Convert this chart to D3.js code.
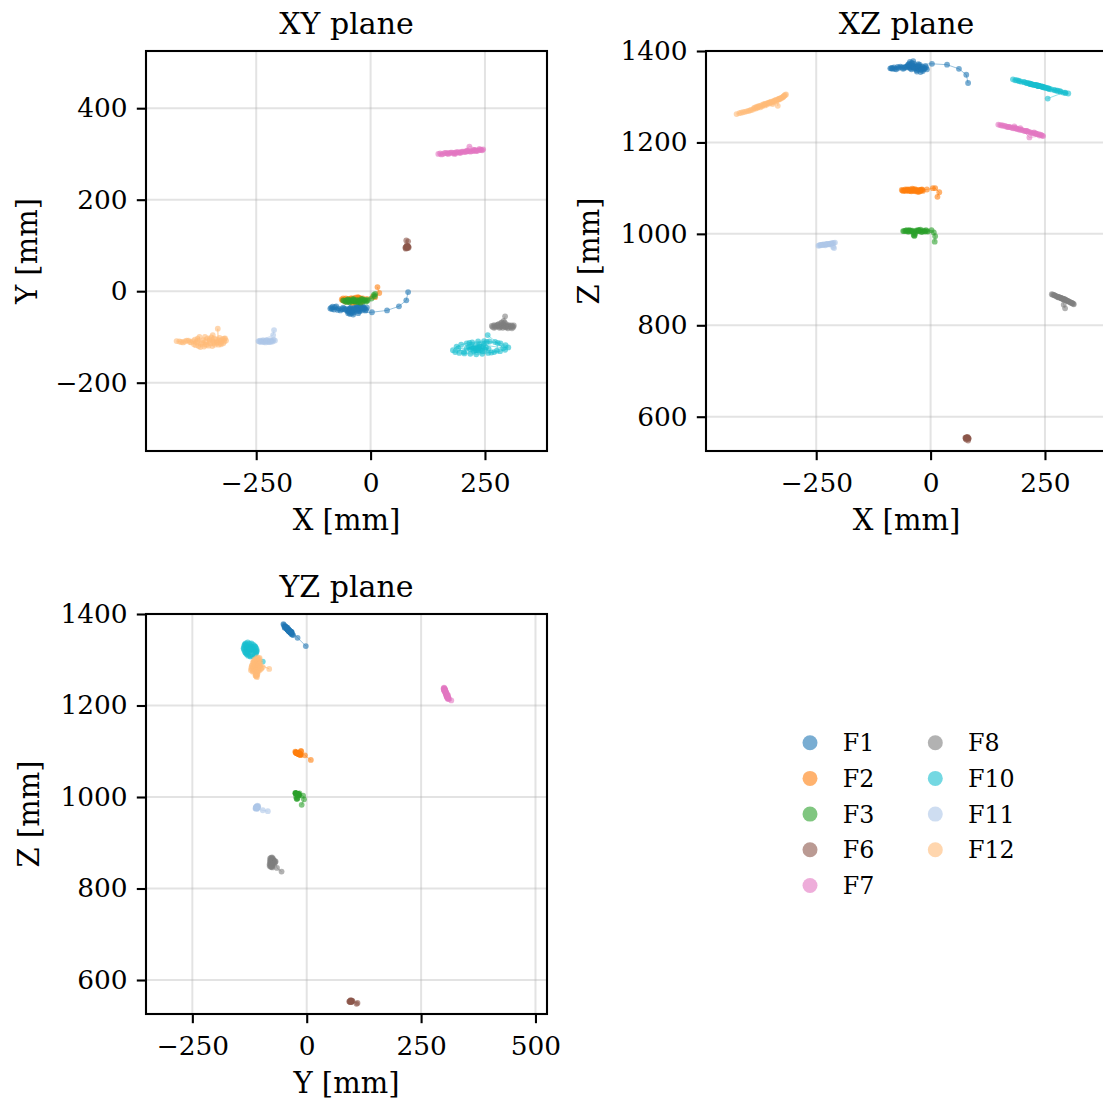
<!DOCTYPE html>
<html>
<head>
<meta charset="utf-8">
<script src="https://cdn.jsdelivr.net/npm/d3@7"></script>
<style>
  html, body { margin: 0; padding: 0; background: #fff; }
  svg { display: block; }
</style>
</head>
<body>
<script>
// ---------- DATA, each point = [X, Y, Z] in mm ----------
const MARKERS = ["F1", "F2", "F3", "F6", "F7", "F8", "F10", "F11", "F12"];
const COLORS  = ["#1f77b4", "#ff7f0e", "#2ca02c", "#8c564b", "#e377c2", "#7f7f7f", "#17becf", "#aec7e8", "#ffbb78"];

const F1 = [
  [-86,-36,1362],[-80,-40,1364],[-75,-33,1360],[-70,-38,1363],[-66,-42,1366],[-60,-36,1361],
  [-55,-40,1365],[-50,-44,1368],[-46,-38,1364],[-42,-35,1360],[-40,-42,1366],[-36,-46,1372],
  [-33,-38,1362],[-30,-34,1358],[-27,-40,1365],[-24,-44,1370],[-20,-37,1361],[-17,-33,1356],
  [-14,-39,1363],[-11,-42,1367],[-8,-36,1360],[-45,-50,1376],[-38,-51,1378],[-30,-31,1355],
  [-22,-30,1354],
  [-52,-39,1364],[-48,-41,1366],[-44,-37,1362],[-41,-40,1365],[-38,-43,1368],[-35,-36,1361],
  [-32,-41,1366],[-29,-38,1363],[-26,-36,1361],[-23,-41,1366],[-21,-39,1364],[-18,-41,1366],
  [-15,-36,1360],[-13,-38,1362],[-10,-40,1364],[-44,-43,1369],[-36,-40,1365],[-28,-43,1368],
  [-19,-35,1359],[-58,-38,1363],[-63,-39,1364],[-84,-39,1363],[-78,-35,1361],[-47,-46,1372],
  [-41,-48,1374],[-88,-38,1362],[-83,-34,1361],[-72,-41,1365],
  [-49,-48,1370],[-27,-48,1371],[3,-46,1372],[36,-42,1370],[62,-33,1361],
  [78,-20,1348],[82,-2,1330]
];
const F2 = [
  [-63,-18,1096],[-58,-20,1095],[-54,-16,1094],[-50,-22,1097],[-46,-19,1095],[-42,-15,1093],
  [-38,-21,1096],[-34,-24,1098],[-30,-18,1095],[-26,-14,1092],[-22,-20,1096],[-19,-23,1097],
  [-17,-16,1094],[-40,-25,1099],[-28,-13,1092],[-48,-17,1094],[-36,-19,1095],[-24,-21,1096],
  [-61,-20,1095],[-56,-18,1095],[-52,-20,1096],[-48,-21,1096],[-44,-17,1094],[-40,-19,1095],
  [-36,-16,1094],[-32,-21,1096],[-28,-19,1095],[-25,-17,1094],[-21,-18,1095],[-18,-20,1096],
  [-45,-23,1097],[-33,-14,1093],[-55,-23,1097],[-23,-15,1093],[-60,-16,1094],[-38,-23,1097],
  [-8,-17,1097],[5,-12,1100],[10,-13,1100],[19,-4,1091],[15,9,1081]
];
const F3 = [
  [-60,-20,1006],[-55,-22,1007],[-50,-18,1005],[-46,-24,1008],[-42,-20,1006],[-38,-17,1004],
  [-36,-22,996],[-34,-23,1000],[-30,-19,1006],[-26,-21,1007],[-22,-25,1009],[-18,-18,1005],
  [-14,-20,1006],[-10,-23,1008],[-6,-19,1005],[-44,-21,1007],[-28,-24,1008],[-20,-17,1004],
  [-58,-21,1006],[-53,-20,1006],[-48,-22,1007],[-40,-22,1007],[-32,-21,1007],[-24,-20,1006],
  [-16,-22,1007],[-12,-19,1005],[-8,-21,1006],[-52,-24,1008],[-37,-19,1005],[-25,-23,1008],
  [-47,-19,1005],[-35,-21,996],[-37,-20,998],
  [2,-16,1008],[7,-8,1003],[10,-6,995],[9,-11,983]
];
const F6 = [
  [76,95,554],[78,97,555],[80,94,553],[82,98,552],[79,100,554],[81,96,556],
  [77,93,553],[83,95,552],[80,99,555],[79,96,554],[81,98,553],[77,96,552],
  [80,97,554],[83,97,553],[78,111,550],[82,109,548]
];
const F7 = [
  [148,300,1239],[155,299,1237],[162,302,1236],[168,301,1234],[175,303,1233],[181,302,1231],
  [188,304,1230],[194,303,1228],[200,305,1227],[206,304,1225],[212,306,1224],[218,305,1222],
  [224,307,1220],[230,306,1219],[236,308,1218],[242,309,1216],[246,310,1214],[216,316,1211],
  [196,302,1231],[226,309,1222],[183,300,1235],[238,311,1215],
  [152,301,1238],[158,300,1237],[165,302,1235],[172,302,1234],[178,303,1232],[185,303,1231],
  [191,304,1229],[197,304,1228],[203,305,1226],[209,305,1225],[215,306,1223],[221,306,1221],
  [227,308,1220],[233,307,1218],[240,309,1217],[244,308,1215],[170,300,1234],[210,307,1225],
  [230,308,1220],[186,301,1231]
];
const F8 = [
  [265,-76,868],[270,-74,866],[274,-78,864],[278,-73,862],[282,-80,861],[286,-75,859],
  [290,-72,857],[294,-78,856],[298,-76,854],[302,-74,852],[306,-79,850],[310,-77,848],
  [313,-75,846],[285,-70,860],[300,-81,853],
  [267,-78,867],[272,-76,865],[276,-75,863],[280,-77,861],[284,-78,860],[288,-76,858],
  [292,-75,857],[296,-79,855],[300,-78,853],[304,-76,851],[308,-75,849],[312,-78,847],
  [280,-72,862],[296,-72,855],[289,-80,858],[270,-80,866],[309,-81,849],[293,-69,857],
  [287,-68,859],[291,-65,845],[294,-55,837]
];
const F10 = [
  [180,-129,1338],[188,-121,1336],[198,-117,1333],[210,-114,1330],[222,-112,1327],[235,-110,1324],
  [248,-109,1320],[260,-110,1317],[272,-111,1314],[284,-114,1311],[295,-118,1308],[301,-123,1307],
  [294,-128,1309],[283,-131,1312],[270,-133,1315],[257,-135,1318],[244,-137,1322],[231,-138,1325],
  [218,-137,1328],[205,-136,1332],[194,-135,1334],[185,-133,1336],[225,-124,1326],[232,-126,1325],
  [238,-121,1323],[229,-129,1326],[244,-124,1322],[220,-120,1327],[250,-127,1320],[236,-130,1324],
  [215,-122,1329],[222,-126,1327],[228,-120,1326],[234,-123,1324],[240,-128,1323],[246,-120,1321],
  [252,-123,1320],[226,-131,1326],[238,-117,1323],[232,-129,1325],[218,-127,1328],[244,-131,1322],
  [258,-126,1318],[210,-125,1330],[248,-115,1321],[235,-125,1324],[192,-125,1335],[204,-133,1332],
  [264,-134,1316],[276,-130,1313],[278,-113,1313],[254,-111,1319],[216,-113,1329],[290,-124,1309],
  [256,-96,1296]
];
const F11 = [
  [-243,-110,975],[-238,-109,976],[-233,-111,976],[-228,-108,977],[-224,-110,978],[-220,-107,978],
  [-216,-109,979],[-212,-106,980],[-209,-108,981],[-230,-112,975],[-222,-111,977],[-235,-107,977],
  [-241,-108,976],[-236,-110,976],[-231,-109,977],[-226,-110,977],[-218,-108,979],[-214,-110,979],
  [-240,-111,975],[-227,-107,978],[-219,-111,978],[-245,-109,974],
  [-213,-96,971],[-211,-85,969]
];
const F12 = [
  [-424,-109,1262],[-418,-110,1264],[-414,-111,1265],[-410,-112,1266],[-406,-110,1267],[-402,-108,1268],
  [-398,-108,1269],[-395,-111,1270],[-392,-112,1271],[-388,-109,1272],[-386,-116,1275],[-384,-106,1276],
  [-382,-118,1274],[-380,-112,1278],[-378,-104,1276],[-378,-108,1277],[-376,-120,1279],[-374,-100,1280],
  [-372,-122,1277],[-370,-115,1281],[-368,-112,1279],[-366,-107,1283],[-364,-121,1283],[-362,-100,1281],
  [-362,-117,1284],[-360,-111,1285],[-358,-117,1283],[-356,-103,1286],[-354,-119,1287],[-352,-108,1285],
  [-352,-105,1287],[-350,-114,1288],[-348,-101,1289],[-346,-120,1287],[-345,-96,1284],[-344,-110,1290],
  [-342,-113,1291],[-341,-104,1289],[-340,-117,1292],[-338,-106,1293],[-336,-113,1291],[-334,-111,1294],
  [-334,-82,1280],[-332,-117,1295],[-331,-107,1294],[-330,-102,1296],[-328,-113,1297],[-327,-116,1296],
  [-325,-108,1298],[-323,-105,1299],[-322,-114,1300],[-320,-110,1302],[-320,-104,1302],[-318,-103,1304],
  [-316,-108,1305]
];
const SERIES = [F1, F2, F3, F6, F7, F8, F10, F11, F12];

const XY_XTICKS = [-250, 0, 250];
const XY_YTICKS = [-200, 0, 200, 400];
const XZ_XTICKS = [-250, 0, 250];
const XZ_ZTICKS = [600, 800, 1000, 1200, 1400];
const YZ_YTICKS = [-250, 0, 250, 500];
const YZ_ZTICKS = [600, 800, 1000, 1200, 1400];

// ---------- DRAWING ----------
const W = 1103, H = 1099;
const FONT = "'DejaVu Serif', serif";
const svg = d3.select("body").append("svg").attr("width", W).attr("height", H);

const panels = [
  { id: "xy", box: [146, 51, 547, 451], xdom: [-490.9, 385.6], ydom: [-349.3, 525.0], xi: 0, yi: 1,
    xticks: XY_XTICKS, yticks: XY_YTICKS, title: "XY plane", xlabel: "X [mm]", ylabel: "Y [mm]", ylabelX: 37 },
  { id: "xz", box: [706, 51, 1107, 451], xdom: [-490.9, 385.6], ydom: [525, 1400], xi: 0, yi: 2,
    xticks: XZ_XTICKS, yticks: XZ_ZTICKS, title: "XZ plane", xlabel: "X [mm]", ylabel: "Z [mm]", ylabelX: 599 },
  { id: "yz", box: [146, 614, 547, 1014], xdom: [-351.3, 525.2], ydom: [525.7, 1400], xi: 1, yi: 2,
    xticks: YZ_YTICKS, yticks: YZ_ZTICKS, title: "YZ plane", xlabel: "Y [mm]", ylabel: "Z [mm]", ylabelX: 39 }
];

const fmt = d3.format("d");
const TICK = 9.2, PAD = 9.2;

panels.forEach(p => {
  const [l, t, r, b] = p.box;
  const x = d3.scaleLinear().domain(p.xdom).range([l, r]);
  const y = d3.scaleLinear().domain(p.ydom).range([b, t]);
  const g = svg.append("g");

  svg.append("clipPath").attr("id", "clip-" + p.id)
    .append("rect").attr("x", l).attr("y", t).attr("width", r - l).attr("height", b - t);

  // grid
  const grid = g.append("g").attr("clip-path", `url(#clip-${p.id})`);
  grid.selectAll("line.gx").data(p.xticks).enter().append("line")
    .attr("x1", d => x(d)).attr("x2", d => x(d)).attr("y1", t).attr("y2", b)
    .attr("stroke", "#b0b0b0").attr("stroke-opacity", 0.35).attr("stroke-width", 2);
  grid.selectAll("line.gy").data(p.yticks).enter().append("line")
    .attr("y1", d => y(d)).attr("y2", d => y(d)).attr("x1", l).attr("x2", r)
    .attr("stroke", "#b0b0b0").attr("stroke-opacity", 0.35).attr("stroke-width", 2);

  // data
  const dg = g.append("g").attr("clip-path", `url(#clip-${p.id})`);
  SERIES.forEach((s, k) => {
    const line = d3.line().x(d => x(d[p.xi])).y(d => y(d[p.yi]));
    dg.append("path").attr("d", line(s)).attr("fill", "none")
      .attr("stroke", COLORS[k]).attr("stroke-width", 0.9).attr("stroke-opacity", 0.5);
    dg.append("g").selectAll("circle").data(s).enter().append("circle")
      .attr("cx", d => x(d[p.xi])).attr("cy", d => y(d[p.yi])).attr("r", 2.9)
      .attr("fill", COLORS[k]).attr("fill-opacity", 0.6);
  });

  // axes
  const ax = g.append("g").attr("transform", `translate(0,${b})`)
    .call(d3.axisBottom(x).tickValues(p.xticks).tickFormat(fmt).tickSize(TICK).tickPadding(PAD + 3.5));
  const ay = g.append("g").attr("transform", `translate(${l},0)`)
    .call(d3.axisLeft(y).tickValues(p.yticks).tickFormat(fmt).tickSize(TICK).tickPadding(PAD));
  [ax, ay].forEach(a => {
    a.select(".domain").remove();
    a.selectAll(".tick line").attr("stroke", "#000").attr("stroke-width", 2.1);
    a.selectAll(".tick text").attr("font-family", FONT).attr("font-size", 26.4).attr("fill", "#000");
  });

  // spines
  g.append("rect").attr("x", l).attr("y", t).attr("width", r - l).attr("height", b - t)
    .attr("fill", "none").attr("stroke", "#000").attr("stroke-width", 2.1);

  // title & labels
  const cx = (l + r) / 2, cy = (t + b) / 2;
  g.append("text").attr("x", cx).attr("y", t - 17).attr("text-anchor", "middle")
    .attr("font-family", FONT).attr("font-size", 30).text(p.title);
  g.append("text").attr("x", cx).attr("y", b + 79).attr("text-anchor", "middle")
    .attr("font-family", FONT).attr("font-size", 29).text(p.xlabel);
  g.append("text").attr("transform", `translate(${p.ylabelX},${cy}) rotate(-90)`).attr("text-anchor", "middle")
    .attr("font-family", FONT).attr("font-size", 29).text(p.ylabel);
});

// legend
const leg = svg.append("g");
MARKERS.forEach((m, i) => {
  const col = i < 5 ? 0 : 1, row = i < 5 ? i : i - 5;
  const cxp = col === 0 ? 810 : 935.3;
  const cyp = 742.7 + row * 35.7;
  leg.append("circle").attr("cx", cxp).attr("cy", cyp).attr("r", 7.5)
    .attr("fill", COLORS[i]).attr("fill-opacity", 0.6);
  leg.append("text").attr("x", cxp + 32.7).attr("y", cyp + 8.5)
    .attr("font-family", FONT).attr("font-size", 23.75).text(m);
});
</script>
</body>
</html>
